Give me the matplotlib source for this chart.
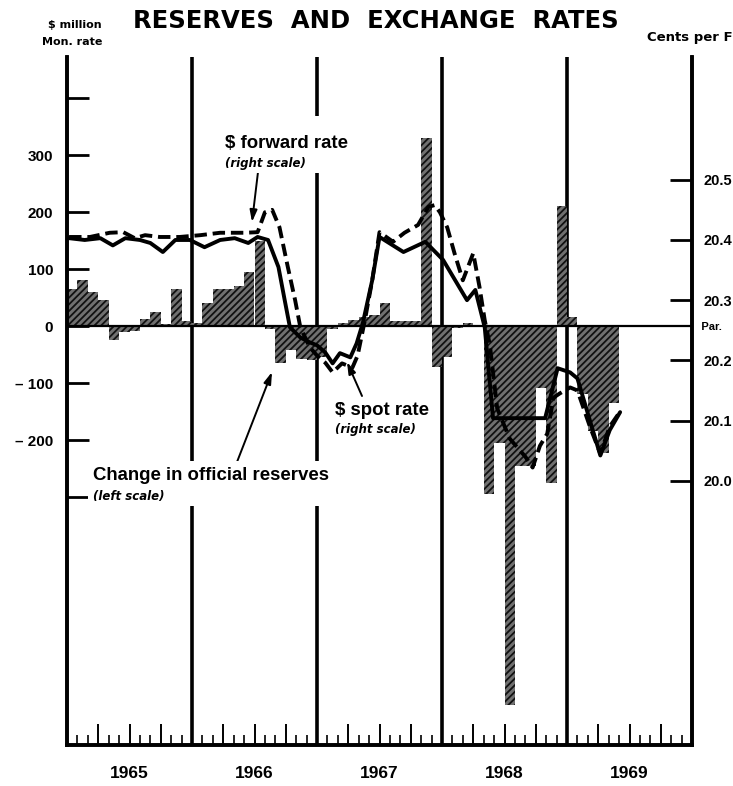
import matplotlib
matplotlib.use('Agg')
import matplotlib.pyplot as plt
from matplotlib.patches import Rectangle

# Time axis: months counted from the start of January 1965
years = ['1965', '1966', '1967', '1968', '1969']

# Change in official reserves, $ million per month (Jan 1965 - May 1969)
reserves = [65, 80, 60, 45, -25, -10, -8, 12, 25, 3, 65, 8,
            5, 40, 65, 65, 70, 95, 150, -5, -65, -42, -58, -60,
            -55, -5, 5, 10, 15, 20, 40, 8, 8, 8, 330, -72,
            -55, -3, 6, 0, -295, -205, -665, -245, -245, -108, -275, 210,
            15, -120, -185, -222, -135]

# $ spot rate, cents per franc
spot_t = [0.2, 1.7, 3.2, 4.4, 5.6, 7.0, 8.0, 9.2, 10.4, 11.8, 13.2, 14.7,
          16.1, 17.4, 18.3, 19.3, 20.3, 20.9, 21.4, 22.4, 23.3, 24.0, 24.8,
          25.5, 26.2, 27.2, 27.8, 28.4, 29.3, 30.0, 32.3, 34.4, 36.1, 38.4,
          39.2, 40.1, 40.9, 45.9, 47.1, 48.3, 49.0, 50.2, 51.2, 52.1, 53.1]
spot = [20.403, 20.400, 20.403, 20.391, 20.403, 20.400, 20.395, 20.380,
        20.400, 20.400, 20.388, 20.400, 20.403, 20.395, 20.405, 20.400,
        20.355, 20.300, 20.255, 20.238, 20.230, 20.225, 20.213, 20.195,
        20.212, 20.205, 20.228, 20.262, 20.333, 20.405, 20.380, 20.397,
        20.367, 20.300, 20.317, 20.255, 20.104, 20.104, 20.187, 20.180,
        20.170, 20.100, 20.042, 20.084, 20.114]

# $ forward rate, cents per franc
fwd_t = [0.2, 2.2, 4.1, 5.4, 6.5, 7.5, 8.9, 10.8, 12.8, 14.7, 17.1, 18.3,
         19.0, 19.7, 20.4, 21.2, 21.9, 22.4, 23.3, 24.0, 24.8, 25.5, 26.4,
         27.4, 27.9, 28.6, 29.3, 30.0, 31.3, 32.4, 33.7, 34.7, 35.3, 35.8,
         36.5, 37.2, 38.0, 39.0, 39.6, 40.1, 40.6, 41.3, 42.5, 44.0, 44.7,
         45.4, 46.1, 46.7, 47.3, 48.3, 49.0, 50.2, 51.2, 52.1, 53.1]
fwd = [20.405, 20.405, 20.412, 20.413, 20.403, 20.408, 20.405, 20.405,
       20.408, 20.412, 20.412, 20.413, 20.446, 20.450, 20.421, 20.355,
       20.300, 20.255, 20.222, 20.208, 20.196, 20.180, 20.195, 20.188,
       20.208, 20.267, 20.333, 20.413, 20.397, 20.412, 20.425, 20.455,
       20.458, 20.446, 20.421, 20.378, 20.333, 20.378, 20.322, 20.267,
       20.225, 20.120, 20.070, 20.040, 20.022, 20.058, 20.078, 20.138,
       20.145, 20.155, 20.150, 20.090, 20.045, 20.090, 20.115]

left_ticks = [-300, -200, -100, 0, 100, 200, 300, 400]
left_labels = ['', '\u2013 200', '\u2013 100', '0', '100', '200', '300', '']
right_ticks = [20.0, 20.1, 20.2, 20.3, 20.4, 20.5]
par_value = 20.255

W, H = 733, 786
NARROW = ['Liberation Sans', 'DejaVu Sans']


def fx(x):
    return x / W


def fy(y):
    return 1 - y / H


fig = plt.figure(figsize=(W / 100, H / 100), dpi=100)
ax = fig.add_axes([fx(67), fy(745), fx(692 - 67), (745 - 57) / H])
ax2 = ax.twinx()

# reserves bars (left scale)
plt.rcParams['hatch.linewidth'] = 1.3
ax.bar(range(len(reserves)), reserves, width=1.0, align='edge',
       facecolor='#707070', edgecolor='#111111', hatch='/////', linewidth=0,
       zorder=2)
ax.axhline(0, color='black', lw=1.6, zorder=3)
for k in range(1, len(years)):
    ax.axvline(12 * k, color='black', lw=2.6, zorder=1)

ax.set_xlim(0, 12 * len(years))
ax.set_ylim(-735, 472)
ax.set_yticks(left_ticks)
ax.set_yticklabels(left_labels, family=NARROW, fontweight='bold', fontsize=11)
ax.tick_params(axis='y', direction='in', length=16, width=2, pad=10)
ax.set_xticks(range(0, 61, 3))
ax.set_xticks(range(0, 61), minor=True)
ax.set_xticklabels([])
ax.tick_params(axis='x', which='major', direction='in', length=15, width=1.4)
ax.tick_params(axis='x', which='minor', direction='in', length=7, width=1.2)
for k, yr in enumerate(years):
    ax.text(12 * k + 6, -771, yr, ha='center', va='top', family=NARROW,
            fontweight='bold', fontsize=12.5)

# exchange rates (right scale)
ax2.plot(spot_t, spot, color='black', lw=2.8, solid_capstyle='round',
         zorder=4)
ax2.plot(fwd_t, fwd, color='black', lw=2.8, dashes=(3.2, 1.5), zorder=4)
ax2.set_ylim(19.561, 20.704)
ax2.set_yticks(right_ticks)
ax2.set_yticklabels(['%.1f' % v for v in right_ticks], family=NARROW,
                    fontweight='bold', fontsize=10.5)
ax2.tick_params(axis='y', direction='in', length=16, width=2, pad=8)
ax2.text(1.0, par_value, '   Par.', transform=ax2.get_yaxis_transform(),
         ha='left', va='center', family=NARROW, fontweight='bold', fontsize=8)

for a in (ax, ax2):
    a.spines['top'].set_visible(False)
    for s in ('left', 'right', 'bottom'):
        a.spines[s].set_linewidth(2.6)

# titles and units
fig.text(fx(376), fy(21), 'RESERVES  AND  EXCHANGE  RATES', ha='center',
         va='center', fontsize=17.5, fontweight='heavy')
fig.text(fx(102), fy(25), '\\$ million', ha='right', va='center',
         fontweight='bold', fontsize=8)
fig.text(fx(102), fy(42), 'Mon. rate', ha='right', va='center',
         fontweight='bold', fontsize=8)
fig.text(fx(647), fy(38), 'Cents per F', ha='left', va='center',
         fontweight='bold', fontsize=9.5)

# white patches where labels interrupt the year lines
for (x0, y0, x1, y1) in [(220, 116, 356, 173), (88, 461, 330, 506)]:
    fig.patches.append(Rectangle((fx(x0), fy(y1)), fx(x1 - x0), (y1 - y0) / H,
                                 transform=fig.transFigure, facecolor='white',
                                 edgecolor='none', zorder=1))

label_kw = dict(family=NARROW, fontweight='bold', fontsize=13.4, ha='left',
                va='center', zorder=5)
note_kw = dict(fontweight='bold', style='italic', fontsize=8.5,
               ha='left', va='center', zorder=5)
fig.text(fx(225), fy(143), '\\$ forward rate', **label_kw)
fig.text(fx(225), fy(163), '(right scale)', **note_kw)
fig.text(fx(335), fy(410), '\\$ spot rate', **label_kw)
fig.text(fx(335), fy(429), '(right scale)', **note_kw)
fig.text(fx(93), fy(476), 'Change in official reserves', **label_kw)
fig.text(fx(93), fy(497), '(left scale)', **note_kw)

arrow = dict(arrowstyle='-|>,head_length=0.7,head_width=0.22', lw=1.4,
             color='black', shrinkA=0, shrinkB=0)
for (x0, y0, x1, y1) in [(258, 172, 252, 222), (362, 396, 347, 362),
                         (237, 462, 272, 372)]:
    ax.annotate('', xy=(x1, H - y1), xycoords='figure pixels',
                xytext=(x0, H - y0), textcoords='figure pixels',
                arrowprops=arrow, zorder=6)

plt.savefig('out.png', dpi=100)
